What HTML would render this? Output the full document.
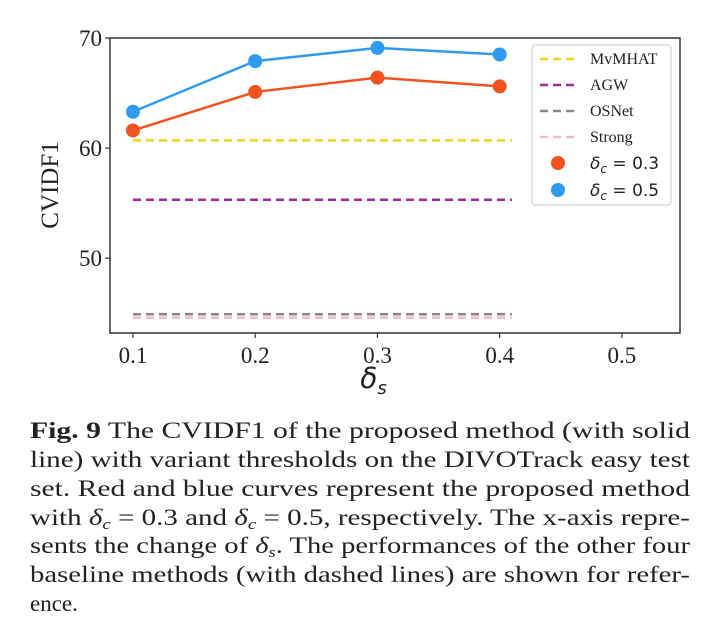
<!DOCTYPE html>
<html><head><meta charset="utf-8"><style>
html,body{margin:0;padding:0;background:#fff;}
svg{display:block;}
</style></head><body>
<svg id="fig" width="718" height="625" viewBox="0 0 718 625" xmlns="http://www.w3.org/2000/svg">
<g id="plot"></g>
<g id="caption" font-family="'Liberation Serif', serif" font-size="23" fill="#222">
<text x="30" y="438" textLength="660" lengthAdjust="spacingAndGlyphs"><tspan font-weight="bold">Fig. 9</tspan>  The CVIDF1 of the proposed method (with solid</text>
<text x="30" y="467" textLength="660" lengthAdjust="spacingAndGlyphs">line) with variant thresholds on the DIVOTrack easy test</text>
<text x="30" y="496" textLength="660" lengthAdjust="spacingAndGlyphs">set. Red and blue curves represent the proposed method</text>
<text x="30" y="525" textLength="660" lengthAdjust="spacingAndGlyphs">with <tspan font-style="italic">δ</tspan><tspan font-style="italic" font-size="15" dy="4">c</tspan><tspan dy="-4"> = 0.3 and </tspan><tspan font-style="italic">δ</tspan><tspan font-style="italic" font-size="15" dy="4">c</tspan><tspan dy="-4"> = 0.5, respectively. The x-axis repre-</tspan></text>
<text x="30" y="553" textLength="660" lengthAdjust="spacingAndGlyphs">sents the change of <tspan font-style="italic">δ</tspan><tspan font-style="italic" font-size="15" dy="4">s</tspan><tspan dy="-4">. The performances of the other four</tspan></text>
<text x="30" y="582" textLength="660" lengthAdjust="spacingAndGlyphs">baseline methods (with dashed lines) are shown for refer-</text>
<text x="30" y="611">ence.</text>
</g>
</svg>
<script>
const xCategories = [0.1, 0.2, 0.3, 0.4];
const seriesBlue = [63.3, 67.9, 69.1, 68.5];
const seriesRed = [61.6, 65.1, 66.4, 65.6];
const baselineNames = ["MvMHAT", "AGW", "OSNet", "Strong"];
const baselineValues = [60.7, 55.3, 44.9, 44.6];
const xTicks = [0.1, 0.2, 0.3, 0.4, 0.5];
const yTicks = [50, 60, 70];

const NS = "http://www.w3.org/2000/svg";
const plot = document.getElementById("plot");
const L = 110, R = 680, T = 38, B = 333;
const xMin = 0.0812, xMax = 0.5475, yMin = 43.2, yMax = 70;
function sx(v){ return L + (v - xMin) / (xMax - xMin) * (R - L); }
function sy(v){ return B - (v - yMin) / (yMax - yMin) * (B - T); }
function mk(tag, attrs, parent){
  const e = document.createElementNS(NS, tag);
  for (const k in attrs) e.setAttribute(k, attrs[k]);
  (parent || plot).appendChild(e);
  return e;
}
const baseColors = ["#f2d21b", "#9b2a9b", "#888888", "#f3b8c8"];
const lx0 = sx(0.1), lx1 = sx(0.41);
baselineValues.forEach((v, i) => {
  const l = mk("line", {x1: lx0, x2: lx1, y1: sy(v), y2: sy(v), stroke: baseColors[i], "stroke-width": 2.5, "stroke-dasharray": "8,5"});
  
  
});
function series(vals, color, name){
  const pts = vals.map((v, i) => sx(xCategories[i]) + "," + sy(v)).join(" ");
  const pl = mk("polyline", {points: pts, fill: "none", stroke: color, "stroke-width": 2.5});
  
  
  vals.forEach((v, i) => {
    const c = mk("circle", {cx: sx(xCategories[i]), cy: sy(v), r: 7, fill: color});
    
    
  });
}
series(seriesBlue, "#2e9bf0", "series-dc-0.5");
series(seriesRed, "#f2521d", "series-dc-0.3");
const frame = mk("rect", {x: L, y: T, width: R - L, height: B - T, fill: "none", stroke: "#333", "stroke-width": 1.5});


xTicks.forEach(t => {
  mk("line", {x1: sx(t), x2: sx(t), y1: B, y2: B + 5, stroke: "#333", "stroke-width": 1.2});
  const tx = mk("text", {x: sx(t), y: B + 30, "text-anchor": "middle", "font-family": "'Liberation Serif', serif", "font-size": 23, fill: "#222"});
  tx.textContent = t.toFixed(1);
  
  
});
yTicks.forEach(t => {
  mk("line", {x1: L - 5, x2: L, y1: sy(t), y2: sy(t), stroke: "#333", "stroke-width": 1.2});
  const tx = mk("text", {x: L - 8, y: sy(t) + 8, "text-anchor": "end", "font-family": "'Liberation Serif', serif", "font-size": 23, fill: "#222"});
  tx.textContent = t;
  
  
});
const yt = mk("text", {x: 0, y: 0, transform: "translate(58,185) rotate(-90)", "text-anchor": "middle", "font-family": "'Liberation Serif', serif", "font-size": 25, fill: "#222"});
yt.textContent = "CVIDF1";


const xt = mk("text", {x: sx(0.3) - 4, y: 388, "text-anchor": "middle", "font-family": "'DejaVu Sans', sans-serif", "font-style": "italic", "font-size": 28, fill: "#222"});
xt.innerHTML = 'δ<tspan font-size="18" dy="6">s</tspan>';


// legend
const lg = mk("g", {});


mk("rect", {x: 532, y: 45, width: 139, height: 160, rx: 3, fill: "#fff", stroke: "#ccc", "stroke-width": 1}, lg);
baselineNames.forEach((n, i) => {
  const y = 59 + i * 26;
  mk("line", {x1: 540, x2: 577, y1: y, y2: y, stroke: baseColors[i], "stroke-width": 2.5, "stroke-dasharray": "8,5"}, lg);
  const t = mk("text", {x: 590, y: y + 5, "font-family": "'Liberation Serif', serif", "font-size": 16, fill: "#222"}, lg);
  t.textContent = n;
  
  
});
[["#f2521d", "0.3"], ["#2e9bf0", "0.5"]].forEach((d, i) => {
  const y = 163 + i * 27;
  mk("circle", {cx: 558, cy: y, r: 7, fill: d[0]}, lg);
  const t = mk("text", {x: 590, y: y + 6, "font-family": "'DejaVu Sans', sans-serif", "font-size": 17, fill: "#222"}, lg);
  t.innerHTML = '<tspan font-style="italic">δ</tspan><tspan font-style="italic" font-size="12" dy="4">c</tspan><tspan dy="-4"> = ' + d[1] + '</tspan>';
  
  
});
</script>
</body></html>
